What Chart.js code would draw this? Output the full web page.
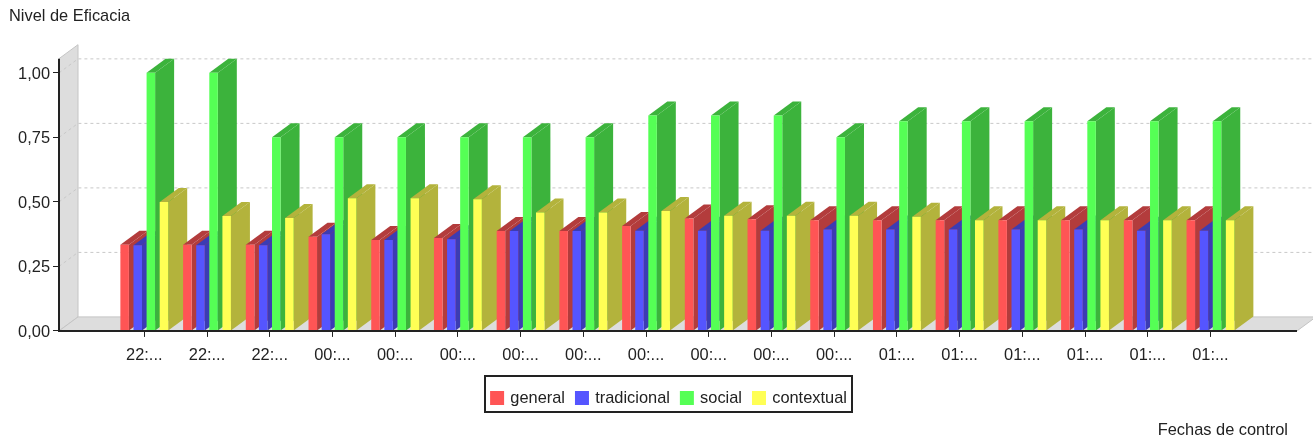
<!DOCTYPE html>
<html>
<head>
<meta charset="utf-8">
<style>
  html, body { margin: 0; padding: 0; background: #fff; }
  #wrap { width: 1313px; height: 440px; }
</style>
<script src="https://cdn.jsdelivr.net/npm/chart.js@4"></script>
</head>
<body>
<div id="wrap"><canvas id="chart" width="1313" height="440"></canvas></div>
<script>
const categories = ['22:...','22:...','22:...','00:...','00:...','00:...','00:...','00:...','00:...','00:...','00:...','00:...','01:...','01:...','01:...','01:...','01:...','01:...'];
const general     = [0.334,0.334,0.334,0.365,0.352,0.360,0.387,0.387,0.407,0.436,0.433,0.429,0.429,0.429,0.429,0.429,0.429,0.429];
const tradicional = [0.332,0.332,0.332,0.375,0.352,0.355,0.387,0.387,0.388,0.388,0.388,0.393,0.393,0.393,0.393,0.393,0.388,0.388];
const social      = [1.000,1.000,0.751,0.751,0.751,0.751,0.751,0.751,0.835,0.835,0.835,0.751,0.813,0.813,0.813,0.813,0.813,0.813];
const contextual  = [0.500,0.445,0.438,0.514,0.514,0.510,0.459,0.459,0.465,0.446,0.446,0.446,0.442,0.429,0.429,0.429,0.429,0.429];
const yTicks = [0, 0.25, 0.5, 0.75, 1];

const DEPTH_X = 19, DEPTH_Y = 14;
const FONT = '"Liberation Sans", Arial, sans-serif';
const INK = '#222';
const FONT_SIZE = 16.4;

function series(label, values, front, side) {
  return {
    label,
    data: values.map((y, x) => ({ x, y })),
    backgroundColor: front,
    sideColor: side,
    borderWidth: 0
  };
}

const room = {
  id: 'room',
  // Wall, floor and dashed grid first, then the bars group by group from the
  // left, each with its extruded faces under its front face.
  beforeDatasetsDraw(chart) {
    const { ctx, scales: { y }, chartArea: a, width } = chart;
    const y0 = y.getPixelForValue(0);
    const top = a.top;
    ctx.save();
    ctx.fillStyle = '#dddddd';
    ctx.strokeStyle = '#c4c4c4';
    ctx.lineWidth = 1;
    ctx.beginPath();
    ctx.moveTo(a.left, y0); ctx.lineTo(a.left, top);
    ctx.lineTo(a.left + DEPTH_X, top - DEPTH_Y); ctx.lineTo(a.left + DEPTH_X, y0 - DEPTH_Y);
    ctx.closePath(); ctx.fill(); ctx.stroke();
    ctx.beginPath();
    ctx.moveTo(a.left, y0); ctx.lineTo(a.left + DEPTH_X, y0 - DEPTH_Y);
    ctx.lineTo(a.right + DEPTH_X, y0 - DEPTH_Y); ctx.lineTo(a.right, y0);
    ctx.closePath(); ctx.fill(); ctx.stroke();
    ctx.strokeStyle = '#c8c8c8';
    ctx.setLineDash([3, 3]);
    yTicks.slice(1).forEach(v => {
      const py = y.getPixelForValue(v);
      ctx.beginPath();
      ctx.moveTo(a.left, py); ctx.lineTo(a.left + DEPTH_X, py - DEPTH_Y);
      ctx.lineTo(width, py - DEPTH_Y);
      ctx.stroke();
    });
    ctx.setLineDash([]);

    categories.forEach((_, c) => {
      chart.data.datasets.forEach((ds, i) => {
        const bar = chart.getDatasetMeta(i).data[c];
        const { x: bx, y: by, base, width: bw } = bar.getProps(['x', 'y', 'base', 'width'], true);
        const l = bx - bw / 2, r = bx + bw / 2;
        ctx.fillStyle = ds.sideColor;
        ctx.beginPath();
        ctx.moveTo(r, base); ctx.lineTo(r, by);
        ctx.lineTo(r + DEPTH_X, by - DEPTH_Y); ctx.lineTo(r + DEPTH_X, base - DEPTH_Y);
        ctx.closePath(); ctx.fill();
        ctx.beginPath();
        ctx.moveTo(l, by); ctx.lineTo(l + DEPTH_X, by - DEPTH_Y);
        ctx.lineTo(r + DEPTH_X, by - DEPTH_Y); ctx.lineTo(r, by);
        ctx.closePath(); ctx.fill();
        bar.draw(ctx);
      });
    });
    ctx.restore();
    return false;
  },
  // Axis lines and the frame round the legend go on top.
  afterDraw(chart) {
    const { ctx, scales: { y }, chartArea: a, legend } = chart;
    const y0 = y.getPixelForValue(0);
    ctx.save();
    ctx.strokeStyle = '#222';
    ctx.lineWidth = 2;
    ctx.beginPath();
    ctx.moveTo(a.left, a.top); ctx.lineTo(a.left, y0 + 1);
    ctx.moveTo(a.left - 1, y0); ctx.lineTo(a.right, y0);
    ctx.stroke();
    ctx.strokeRect(485, Math.round(legend.top - 2), 367, 36);
    ctx.restore();
  },
  afterLayout(chart) {
    // The axis caption sits slightly inside the right edge, the legend right of centre.
    chart.titleBlock.right -= 9;
    chart.legend.left += 16.5;
    chart.legend.right += 16.5;
  }
};

new Chart(document.getElementById('chart'), {
  type: 'bar',
  data: {
    datasets: [
      series('general', general, '#ff5555', '#b33c3c'),
      series('tradicional', tradicional, '#5555ff', '#3c3cb3'),
      series('social', social, '#55ff55', '#3cb33c'),
      series('contextual', contextual, '#ffff55', '#b3b33c')
    ]
  },
  plugins: [room],
  options: {
    responsive: false,
    animation: false,
    layout: { padding: { left: 9, right: 16, top: 0, bottom: 0 } },
    datasets: { bar: { categoryPercentage: 0.836, barPercentage: 0.65 } },
    scales: {
      x: {
        type: 'linear',
        offset: false,
        min: -1.36,
        max: 18.38,
        bounds: 'data',
        grid: { drawOnChartArea: false, drawTicks: true, tickLength: 6, color: '#222', offset: false },
        border: { display: false },
        afterBuildTicks(scale) {
          scale.ticks = categories.map((_, value) => ({ value }));
        },
        ticks: {
          autoSkip: false,
          maxRotation: 0,
          padding: 9,
          color: INK,
          font: { family: FONT, size: FONT_SIZE },
          callback: v => categories[v]
        },
        afterFit(scale) { scale.height = 47; }
      },
      y: {
        min: 0,
        max: 1.055,
        bounds: 'data',
        grid: { drawOnChartArea: false, drawTicks: true, tickLength: 6, color: '#222' },
        border: { display: false },
        afterBuildTicks(scale) {
          scale.ticks = yTicks.map(value => ({ value }));
        },
        ticks: {
          padding: 3,
          labelOffset: 1.5,
          color: INK,
          font: { family: FONT, size: FONT_SIZE },
          callback: v => v.toFixed(2).replace('.', ',')
        },
        afterFit(scale) { scale.width = 50; }
      }
    },
    plugins: {
      tooltip: { enabled: false },
      legend: {
        position: 'bottom',
        labels: {
          color: INK,
          usePointStyle: true,
          pointStyle: 'rect',
          boxWidth: 10,
          boxHeight: 14,
          padding: 12,
          font: { family: FONT, size: FONT_SIZE }
        }
      },
      subtitle: {
        display: true,
        text: 'Nivel de Eficacia',
        position: 'top',
        align: 'start',
        color: INK,
        font: { family: FONT, size: FONT_SIZE, weight: 'normal' },
        padding: { top: 7, bottom: 32 }
      },
      title: {
        display: true,
        text: 'Fechas de control',
        position: 'bottom',
        align: 'end',
        color: INK,
        font: { family: FONT, size: FONT_SIZE, weight: 'normal' },
        padding: { top: 4, bottom: 0 }
      }
    }
  }
});
</script>
</body>
</html>
